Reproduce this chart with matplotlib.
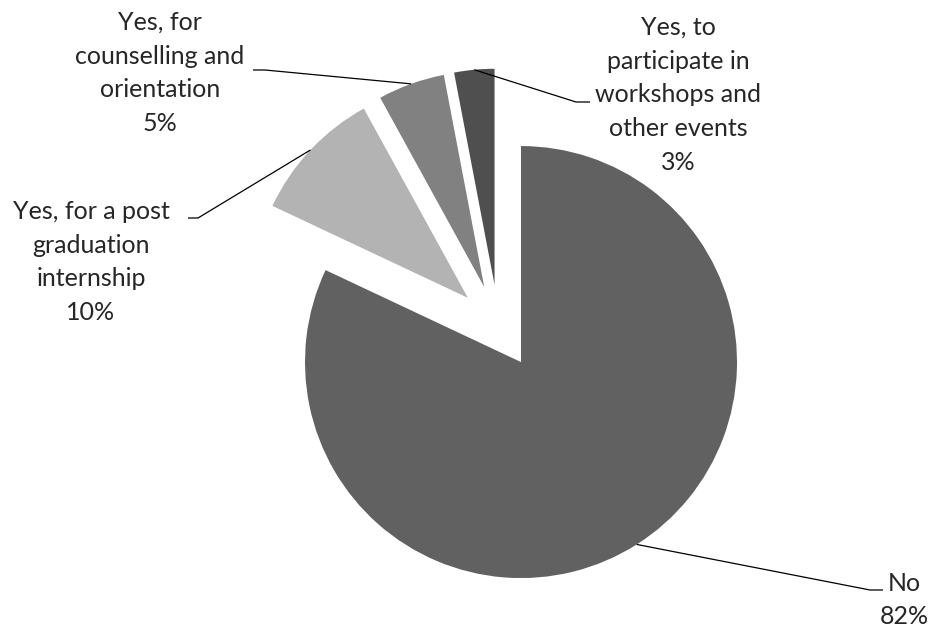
import numpy as np
import matplotlib.pyplot as plt

# answers and their shares (%)
labels = ["No",
          "Yes, for a post\ngraduation\ninternship",
          "Yes, for\ncounselling and\norientation",
          "Yes, to\nparticipate in\nworkshops and\nother events"]
shares = [82, 10, 5, 3]
colors = ["#616161", "#b3b3b3", "#818181", "#4f4f4f"]

# label placement in pixels from the top-left corner: text centre and leader elbow
text_pos = [(904, 600), (91, 262), (160, 73), (678, 95)]
elbow_pos = [(870, 590), (198, 218), (265, 70), (576, 102)]
tail_dx = [13, -10, -12, 14]

W, H = 930, 627
fig = plt.figure(figsize=(9.3, 6.27), dpi=100)
ax = fig.add_axes([0, 0, 1, 1])

R = 216
wedges, _ = ax.pie(shares, colors=colors, startangle=90, counterclock=False,
                   radius=R, center=(498.5, H - 326.6), explode=[42] * len(shares),
                   wedgeprops=dict(linewidth=0))
ax.set_xlim(0, W)
ax.set_ylim(0, H)
ax.set_aspect("equal")
ax.axis("off")

for w, lab, val, (tx, ty), (ex, ey), dx in zip(wedges, labels, shares, text_pos, elbow_pos, tail_dx):
    mid = np.deg2rad((w.theta1 + w.theta2) / 2)
    cx, cy = w.center
    ax_x = cx + w.r * np.cos(mid)
    ax_y = cy + w.r * np.sin(mid)
    ax.plot([ax_x, ex, ex + dx], [ax_y, H - ey, H - ey], color="black", lw=0.9,
            solid_capstyle="butt")
    ax.text(tx, H - ty, f"{lab}\n{val}%", ha="center", va="center",
            multialignment="center", linespacing=1.57, fontsize=18,
            family="Lato", color="#262626")

fig.savefig("out.png", dpi=100)
